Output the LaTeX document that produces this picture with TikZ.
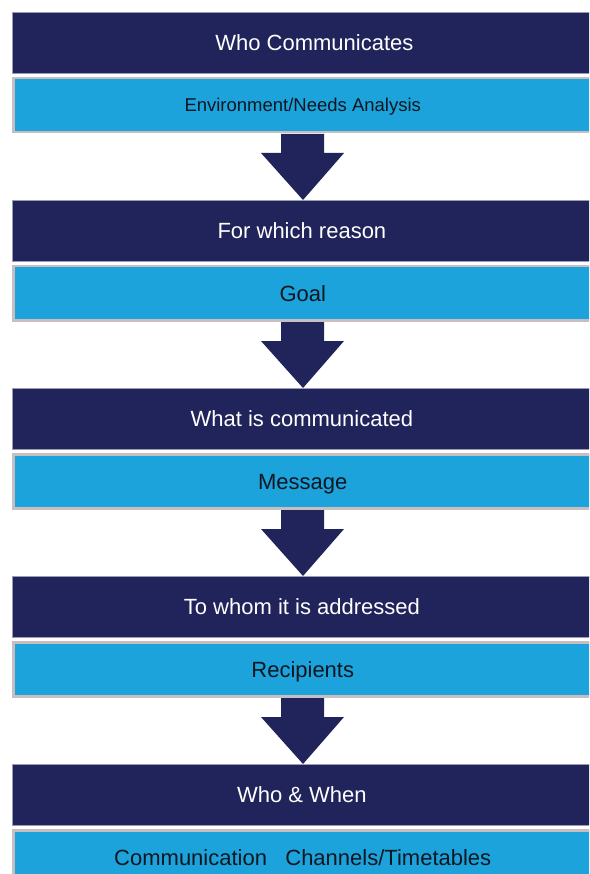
\documentclass[tikz,border=0pt]{standalone}
\usepackage{fontspec}
\setmainfont{Liberation Sans}
\usetikzlibrary{calc}
\definecolor{navy}{HTML}{20245A}
\definecolor{sky}{HTML}{1DA3DC}
\definecolor{rim}{HTML}{C8BEC0}
\definecolor{edgeline}{HTML}{9A9BB8}
\definecolor{ink}{HTML}{0E1620}
\begin{document}
\begin{tikzpicture}[x=1pt,y=-1pt,
  darkbox/.style={rectangle, fill=navy, draw=edgeline, line width=0.8pt,
    minimum width=579pt, minimum height=61pt, inner sep=0pt, anchor=north west,
    text=white, font=\fontsize{22}{26}\selectfont, text height=15.8pt, text depth=0pt},
  lightbox/.style={rectangle, fill=sky, draw=rim, line width=2.5pt,
    minimum width=579pt, minimum height=54pt, inner sep=0pt, anchor=north west,
    text=ink, font=\fontsize{22}{26}\selectfont, text height=15.8pt, text depth=0pt},
  blockarrow/.style={fill=navy}]
\useasboundingbox (0,0) rectangle (589,874);
\clip (0,0) rectangle (589,874);
\fill[white] (0,0) rectangle (589,874);

% block 1
\node[darkbox]  (d1) at (12,12) {\hspace{25pt}Who Communicates};
\node[lightbox, font=\fontsize{18.5}{22}\selectfont, text height=13.3pt] (l1) at (12,77) {Environment/Needs Analysis\hspace{22pt}};
% block 2
\node[darkbox]  (d2) at (12,200) {For which reason};
\node[lightbox] (l2) at (12,265) {Goal};
% block 3
\node[darkbox]  (d3) at (12,388) {What is communicated};
\node[lightbox] (l3) at (12,453) {Message};
% block 4
\node[darkbox]  (d4) at (12,576) {To whom it is addressed};
\node[lightbox] (l4) at (12,641) {Recipients};
% block 5
\node[darkbox]  (d5) at (12,764) {Who \& When};
\node[lightbox] (l5) at (12,829) {Communication\ \ \ Channels/Timetables};

% block arrows between the blocks
\foreach \i in {0,...,3}{
  \pgfmathsetmacro\t{12+188*\i}
  \fill[blockarrow] (281,\t+122) -- (324,\t+122) -- (324,\t+141) -- (344,\t+141)
     -- (303,\t+188) -- (261,\t+141) -- (281,\t+141) -- cycle;
}
\end{tikzpicture}
\end{document}
